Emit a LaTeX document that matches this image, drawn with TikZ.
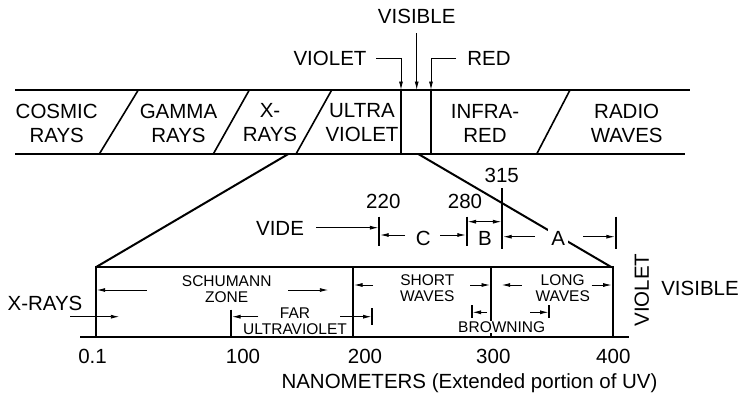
\documentclass[tikz,border=0pt]{standalone}
\usepackage{fontspec}
\setmainfont{Liberation Sans}
\usetikzlibrary{arrows.meta,positioning,calc}

\begin{document}
\begin{tikzpicture}[x=1pt, y=-1pt, >={Latex[length=8.5pt,width=4pt]},
  every node/.style={font=\fontsize{20.5}{24}\selectfont, inner sep=1pt},
  twoline/.style={align=center},
  smalllbl/.style={font=\fontsize{15.5}{16}\selectfont, align=center},
  heavy/.style={line width=2.3pt},
  slant/.style={line width=1.6pt},
  wall/.style={line width=2pt},
  tickmark/.style={line width=1.8pt},
  dim/.style={line width=0.9pt}]
\useasboundingbox (0,0) rectangle (743,396);

% spectrum band
\draw[heavy] (15,90) -- (690,90);
\draw[heavy] (15,154) -- (685,154);
\foreach \xa/\xb in {138.3/99.3, 249.3/213.3, 331.7/296, 570/536.7}
  \draw[slant] (\xa,90) -- (\xb,154);
\draw[wall] (401,90) -- (401,154) (431,90) -- (431,154);
\coordinate (uvedge) at (401,90);
\coordinate (visedge) at (416.7,90);
\coordinate (iredge) at (431,90);

\node[twoline] (cosmic) at (56.7,123) {COSMIC\\RAYS};
\node[twoline] (gamma) at (178.5,123) {GAMMA\\RAYS};
\node[twoline] (xray) at (270,123) {X-\\RAYS};
\node[twoline] (uv) at (362,123) {ULTRA\\VIOLET};
\node[twoline] (ir) at (485,123) {INFRA-\\RED};
\node[twoline] (radio) at (626.7,123) {RADIO\\WAVES};

% visible pointers
\node (visible) at (416.7,16.7) {VISIBLE};
\node (violettop) at (330,58.3) {VIOLET};
\node (redtop) at (489,58.3) {RED};
\draw[->, dim, shorten <=8pt] (visible.south) -- (visedge);
\draw[->, dim, shorten <=8.5pt] (violettop.east) -| (uvedge);
\draw[->, dim, shorten <=10pt] (redtop.west) -| (iredge);

% zoom onto the UV part
\draw[wall] (288.3,154) -- (95.7,267.3);
\draw[wall] (418.3,154) -- (611.7,267.3);

% UV bands A, B, C
\draw[tickmark] (379.3,216.7) -- (379.3,245.7);
\draw[tickmark] (466.7,216.7) -- (466.7,245.7);
\draw[tickmark] (502.3,188) -- (502.3,249);
\draw[tickmark] (615.7,216.7) -- (615.7,249);
\node (n220) at (383.3,201.7) {220};
\node (n280) at (465,201.7) {280};
\node (n315) at (501.7,175) {315};
\node (vide) at (280,228.3) {VIDE};
\draw[->, dim] (316,227.7) -- (378.4,227.7);
\node (bandc) at (423.3,238.3) {C};
\draw[->, dim] (405,235) -- (380.2,235);
\draw[->, dim] (440,235) -- (465.8,235);
\node (bandb) at (485,238.3) {B};
\draw[<->, dim] (467.6,221.7) -- (501.4,221.7);
\node[fill=white, inner sep=3pt] (banda) at (558.3,238.3) {A};
\draw[->, dim] (535,236.7) -- (503.2,236.7);
\draw[->, dim] (583.3,236.7) -- (614.8,236.7);

% extended UV box
\draw[wall] (95.7,337) |- (612.7,267.3) -- (612.7,337);
\foreach \xv in {353, 491}
  \draw[wall] (\xv,267.3) -- (\xv,337);
\draw[wall] (231,309.5) -- (231,337);
\draw[wall] (80,337) -- (629.3,337);

\node[smalllbl] (schumann) at (226.7,288.7) {SCHUMANN\\ZONE};
\draw[->, dim] (146.7,290) -- (96.7,290);
\draw[->, dim] (288.3,290) -- (328.3,290);
\node (xraylow) at (45,303.3) {X-RAYS};
\draw[->, dim] (70,316.7) -- (119.3,316.7);
\node[smalllbl] (faruv) at (295,321) {FAR\\ULTRAVIOLET};
\draw[->, dim] (258.3,316.7) -- (232,316.7);
\draw[->, dim] (340,316.7) -- (371.5,316.7);
\draw[tickmark] (372.3,308.3) -- (372.3,325);
\node[smalllbl] (short) at (427.3,288) {SHORT\\WAVES};
\draw[->, dim] (373,285) -- (354,285);
\draw[->, dim] (470,285) -- (490,285);
\node[smalllbl] (long) at (562.7,288) {LONG\\WAVES};
\draw[->, dim] (521.7,285) -- (501.7,285);
\draw[->, dim] (591.7,285) -- (611.7,285);
\node[smalllbl, fill=white, inner sep=0.5pt] (browning) at (501.7,327) {BROWNING};
\draw[tickmark] (471.7,305) -- (471.7,318.3);
\draw[tickmark] (549.3,305) -- (549.3,318.3);
\draw[->, dim] (487,312.3) -- (472.5,312.3);
\draw[->, dim] (530,312.3) -- (548.5,312.3);

\node[rotate=90] (violetside) at (641.7,290) {VIOLET};
\node (visibleside) at (700,288.3) {VISIBLE};

% axis numbers
\foreach \xn/\lab in {92.5/0.1, 243/100, 365/200, 493.3/300, 613.3/400}
  \node at (\xn,356.7) {\lab};
\node (units) at (469.5,383.3) {NANOMETERS (Extended portion of UV)};
\end{tikzpicture}
\end{document}
